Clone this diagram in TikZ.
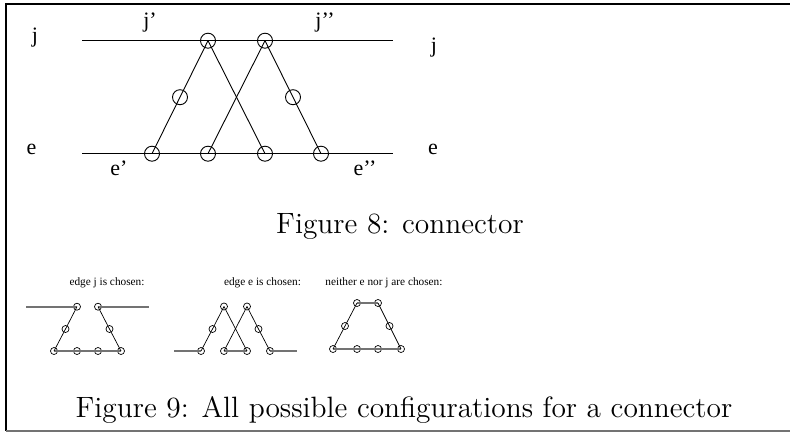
\documentclass[tikz,border=0pt]{standalone}
\usepackage{fontspec}
\newfontfamily\timesf{Liberation Serif}
\newfontfamily\capf{lmroman12-regular.otf}
\begin{document}
\begin{tikzpicture}[x=1pt,y=-1pt,
  bigc/.style={circle,draw,line width=0.9pt,minimum size=15pt,inner sep=0pt},
  smallc/.style={circle,draw,line width=0.7pt,minimum size=7pt,inner sep=0pt},
  wire/.style={line width=0.9pt},
  swire/.style={line width=0.7pt},
  edgeline/.style={line width=1.6pt,black!55},
  lbl/.style={font=\timesf\fontsize{22}{24}\selectfont,anchor=base,inner sep=0pt},
  slbl/.style={font=\timesf\fontsize{11.3}{13}\selectfont,anchor=base,inner sep=0pt},
  figcap/.style={font=\capf\fontsize{29.4}{34}\selectfont,anchor=base,inner sep=0pt}]
\useasboundingbox (0,0) rectangle (790,432);
% frame
\draw[line width=1.2pt] (790,4) -- (6,4) -- (6,431);
\draw[line width=1.5pt,black!55] (6,431) -- (790,431);

% ---------- Figure 8 ----------
\coordinate (jl) at (82,40.7);
\coordinate (jr) at (393,40.7);
\coordinate (el) at (82,153.7);
\coordinate (er) at (393,153.7);
\node[bigc] (t1) at (208,40.7) {};
\node[bigc] (t2) at (265,40.7) {};
\node[bigc] (m1) at (180,97.2) {};
\node[bigc] (m2) at (293,97.2) {};
\node[bigc] (b1) at (152,153.7) {};
\node[bigc] (b2) at (208,153.7) {};
\node[bigc] (b3) at (265,153.7) {};
\node[bigc] (b4) at (321,153.7) {};
\draw[wire] (jl) -- (jr);
\draw[wire] (el) -- (er);
\draw[wire] (t1.center) -- (m1.center) -- (b1.center);
\draw[wire] (t1.center) -- (b3.center);
\draw[wire] (t2.center) -- (b2.center);
\draw[wire] (t2.center) -- (m2.center) -- (b4.center);
\node[lbl] (ljl) at (35,42) {j};
\node[lbl] (ljr) at (434,52) {j};
\node[lbl] (lel) at (31.5,154) {e};
\node[lbl] (ler) at (433,154) {e};
\node[lbl] (ljp) at (150,27) {j’};
\node[lbl] (ljpp) at (325,27) {j’’};
\node[lbl] (lep) at (119,175) {e’};
\node[lbl] (lepp) at (365,175) {e’’};
\node[figcap] (cap8) at (400,233) {Figure 8: connector};

% ---------- Figure 9 ----------
\node[slbl] (s1) at (107,285) {edge j is chosen:};
\node[slbl] (s2) at (262.5,285) {edge e is chosen:};
\node[slbl] (s3) at (384,285) {neither e nor j are chosen:};

% sub 1: edge j chosen
\coordinate (aL) at (26,306.7);
\coordinate (aR) at (149,306.7);
\node[smallc] (at1) at (77,306.7) {};
\node[smallc] (at2) at (98,306.7) {};
\node[smallc] (am1) at (65.5,329) {};
\node[smallc] (am2) at (109.5,329) {};
\node[smallc] (ab1) at (54,351) {};
\node[smallc] (ab2) at (77,351) {};
\node[smallc] (ab3) at (98,351) {};
\node[smallc] (ab4) at (121,351) {};
\draw[edgeline] (aL) -- (at1.center);
\draw[edgeline] (at2.center) -- (aR);
\draw[edgeline] (ab1.center) -- (ab4.center);
\draw[swire] (at1.center) -- (am1.center) -- (ab1.center);
\draw[swire] (at2.center) -- (am2.center) -- (ab4.center);

% sub 2: edge e chosen
\coordinate (bL) at (174,351);
\coordinate (bR) at (297,351);
\node[smallc] (bt1) at (224,306.5) {};
\node[smallc] (bt2) at (247,306.5) {};
\node[smallc] (bm1) at (212.5,329) {};
\node[smallc] (bm2) at (258.5,329) {};
\node[smallc] (bb1) at (201,351) {};
\node[smallc] (bb2) at (224,351) {};
\node[smallc] (bb3) at (247,351) {};
\node[smallc] (bb4) at (270,351) {};
\draw[edgeline] (bL) -- (bb1.center);
\draw[edgeline] (bb4.center) -- (bR);
\draw[edgeline] (bb2.center) -- (bb3.center);
\draw[swire] (bt1.center) -- (bm1.center) -- (bb1.center);
\draw[swire] (bt1.center) -- (bb3.center);
\draw[swire] (bt2.center) -- (bb2.center);
\draw[swire] (bt2.center) -- (bm2.center) -- (bb4.center);

% sub 3: neither chosen
\node[smallc] (ct1) at (357,303) {};
\node[smallc] (ct2) at (378,303) {};
\node[smallc] (cm1) at (345,326) {};
\node[smallc] (cm2) at (389.5,326) {};
\node[smallc] (cb1) at (333,349) {};
\node[smallc] (cb2) at (357,349) {};
\node[smallc] (cb3) at (378,349) {};
\node[smallc] (cb4) at (401,349) {};
\draw[edgeline] (ct1.center) -- (ct2.center);
\draw[edgeline] (cb1.center) -- (cb4.center);
\draw[swire] (ct1.center) -- (cm1.center) -- (cb1.center);
\draw[swire] (ct2.center) -- (cm2.center) -- (cb4.center);

\node[figcap] (cap9) at (404,417) {Figure 9: All possible configurations for a connector};
\end{tikzpicture}
\end{document}
